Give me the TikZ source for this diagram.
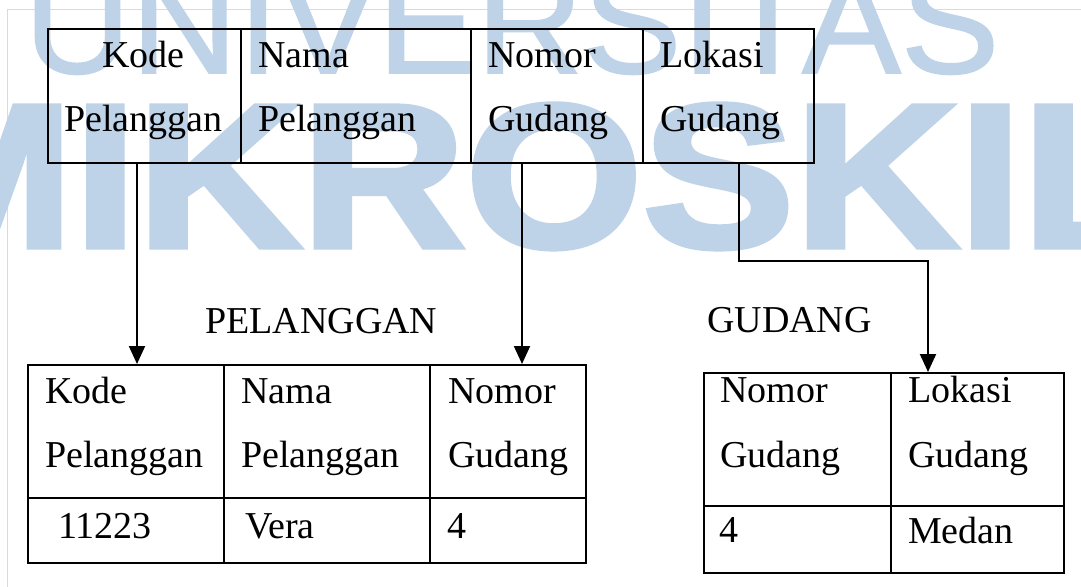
\documentclass[tikz,border=0pt]{standalone}
\usepackage{fontspec}
\setmainfont{Liberation Serif}
\newfontfamily\wmfont{Liberation Sans}[FakeBold=1.2]
\newfontfamily\wmfontb{Liberation Sans}[BoldFeatures={FakeBold=2.5}]
\usetikzlibrary{arrows.meta}
\definecolor{wmblue}{RGB}{190,210,232}
\definecolor{framegray}{RGB}{218,218,218}
\begin{document}
\begin{tikzpicture}[x=1pt,y=-1pt,
  cell/.style={draw=black, line width=2pt, inner sep=0pt, anchor=north west},
  txt/.style={inner sep=0pt, anchor=base west, font=\fontsize{38}{44}\selectfont},
  ctxt/.style={txt, anchor=base},
  arr/.style={draw=black, line width=2pt, -{Triangle[width=16pt,length=18pt]}},
  wm/.style={text=wmblue, inner sep=0pt, anchor=base west}]
\useasboundingbox (0,0) rectangle (1081,586);
\clip (0,0) rectangle (1081,586);
\fill[white] (0,0) rectangle (1081,586);
\draw[framegray, line width=1pt] (7,600) -- (7,9.5) -- (1090,9.5);
% watermark
\node[wm, xscale=1.02, font=\wmfont\fontsize{145}{145}\selectfont] (wm1) at (24,73) {UNIVERSITAS};
\node[wm, xscale=1.11, font=\wmfontb\bfseries\fontsize{205}{205}\selectfont] (wm2) at (-116,247) {MIKROSKIL};
% top table
\node[cell, minimum width=193pt, minimum height=134pt] (t1) at (47,28) {};
\node[cell, minimum width=230pt, minimum height=134pt] (t2) at (240,28) {};
\node[cell, minimum width=172pt, minimum height=134pt] (t3) at (470,28) {};
\node[cell, minimum width=171pt, minimum height=134pt] (t4) at (642,28) {};
\node[ctxt] (t1a) at (143.5,67) {Kode};
\node[ctxt] (t1b) at (143.5,131) {Pelanggan};
\node[txt] (t2a) at (258,67) {Nama};
\node[txt] (t2b) at (258,131) {Pelanggan};
\node[txt] (t3a) at (488,67) {Nomor};
\node[txt] (t3b) at (488,131) {Gudang};
\node[txt] (t4a) at (660,67) {Lokasi};
\node[txt] (t4b) at (660,131) {Gudang};
% titles
\node[txt] (lp) at (205,333) {PELANGGAN};
\node[txt] (lg) at (707,332) {GUDANG};
% PELANGGAN table
\node[cell, minimum width=196pt, minimum height=133pt] (p1) at (27,364) {};
\node[cell, minimum width=206pt, minimum height=133pt] (p2) at (223,364) {};
\node[cell, minimum width=156pt, minimum height=133pt] (p3) at (429,364) {};
\node[cell, minimum width=196pt, minimum height=65pt] (q1) at (27,497) {};
\node[cell, minimum width=206pt, minimum height=65pt] (q2) at (223,497) {};
\node[cell, minimum width=156pt, minimum height=65pt] (q3) at (429,497) {};
\node[txt] (p1a) at (45,403) {Kode};
\node[txt] (p1b) at (45,467) {Pelanggan};
\node[txt] (p2a) at (241,403) {Nama};
\node[txt] (p2b) at (241,467) {Pelanggan};
\node[txt] (p3a) at (448,403) {Nomor};
\node[txt] (p3b) at (448,467) {Gudang};
\node[txt] (q1a) at (58,538) {11223};
\node[txt] (q2a) at (245,538) {Vera};
\node[txt] (q3a) at (447,538) {4};
% GUDANG table
\node[cell, minimum width=187pt, minimum height=133pt] (g1) at (703,372) {};
\node[cell, minimum width=173pt, minimum height=133pt] (g2) at (890,372) {};
\node[cell, minimum width=187pt, minimum height=67pt] (h1) at (703,505) {};
\node[cell, minimum width=173pt, minimum height=67pt] (h2) at (890,505) {};
\node[txt] (g1a) at (720,402) {Nomor};
\node[txt] (g1b) at (720,467) {Gudang};
\node[txt] (g2a) at (908,402) {Lokasi};
\node[txt] (g2b) at (908,467) {Gudang};
\node[txt] (h1a) at (719,542) {4};
\node[txt] (h2a) at (908,543) {Medan};
% connectors
\coordinate (s1) at (137,162);
\coordinate (s2) at (522,162);
\coordinate (s3) at (739,162);
\coordinate (b3) at (739,261);
\coordinate (c3) at (928,261);
\draw[arr] (s1) -- (s1 |- p1.north);
\draw[arr] (s2) -- (s2 |- p3.north);
\draw[arr] (s3) -- (b3) -- (c3) -- (c3 |- g2.north);
\end{tikzpicture}
\end{document}
